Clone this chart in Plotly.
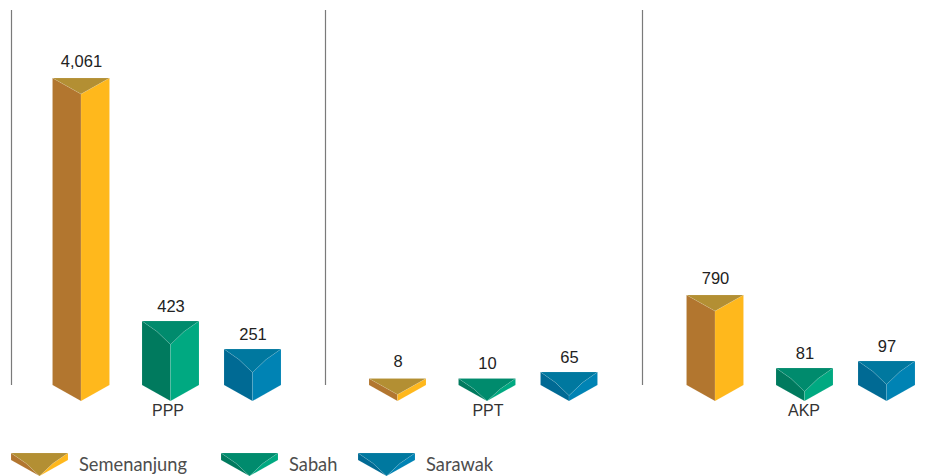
import plotly.graph_objects as go

# ---- data ----
groups = ["PPP", "PPT", "AKP"]
series = ["Semenanjung", "Sabah", "Sarawak"]
semenanjung = [4061, 8, 790]
sabah = [423, 10, 81]
sarawak = [251, 65, 97]
# the infographic's prisms are not linearly scaled: drawn height per value, in axis units
semenanjung_drawn = [307, 6.5, 90]
sabah_drawn = [64, 6.5, 17]
sarawak_drawn = [36, 13, 24]

# ---- layout / style ----
W, H = 947, 476
group_x = [81, 397.5, 715]
series_dx = [0, 89.5, 171.5]
group_label_x = [168, 488, 804]
divider_x = [11.5, 325.5, 642.5]
divider_top = 375
half_w = 28.5
base_drop = 16
top_drop = {"Semenanjung": 16, "Sabah": 23.5, "Sarawak": 23.5}
label_lift = {"Semenanjung": 15.5, "Sabah": 13.5, "Sarawak": 13.5}
curved = {"Semenanjung": False, "Sabah": True, "Sarawak": True}
palette = {
    "Semenanjung": dict(left="#B2762F", right="#FFB81C", top="#B38F33"),
    "Sabah": dict(left="#007A5E", right="#00A981", top="#008B6D"),
    "Sarawak": dict(left="#006A94", right="#0083B4", top="#00789F"),
}
legend_x = [39.5, 249.5, 386.5]
legend_text_x = [79, 289, 426]
legend_base = -75
legend_height = 7
legend_apex = 16

fig = go.Figure()


def face(xs, ys, color):
    fig.add_trace(go.Scatter(
        x=xs, y=ys, mode="lines", fill="toself", fillcolor=color,
        line=dict(color="rgba(255,255,255,0.16)", width=0.6),
        hoverinfo="skip", showlegend=False))


def prism(cx, h, name, base=0.0, apex_drop=None, force_curve=False):
    c = palette[name]
    d = top_drop[name] if apex_drop is None else apex_drop
    top = h + base
    apex_y = max(top - d, base - base_drop)
    l, r = cx - half_w, cx + half_w
    bend = curved[name] or force_curve
    bend_y = top - (top - apex_y) * 0.45
    if bend:
        lx, rx = [l, cx - 13.5, cx], [r, cx + 13.5, cx]
        edge_y = [top, bend_y, apex_y]
    else:
        lx, rx = [l, cx], [r, cx]
        edge_y = [top, apex_y]
    face(lx + [cx, l, l], edge_y + [base - base_drop, base, top], c["left"])
    face(rx + [cx, r, r], edge_y + [base - base_drop, base, top], c["right"])
    face(lx + rx[::-1][1:] + [l], edge_y + edge_y[::-1][1:] + [top], c["top"])


columns = [semenanjung, sabah, sarawak]
drawn = [semenanjung_drawn, sabah_drawn, sarawak_drawn]

for x in divider_x:
    fig.add_trace(go.Scatter(x=[x, x], y=[0, divider_top], mode="lines",
                             line=dict(color="#7a7a7a", width=1.2),
                             hoverinfo="skip", showlegend=False))

for s, name in enumerate(series):
    for g in range(len(groups)):
        cx = group_x[g] + series_dx[s]
        h = drawn[s][g]
        prism(cx, h, name)
        fig.add_trace(go.Scatter(
            x=[cx + 0.5], y=[h + label_lift[name]], mode="text", text=[f"{columns[s][g]:,}"],
            textposition="middle center",
            textfont=dict(family="Liberation Sans", size=16.5, color="#222222"),
            hoverinfo="skip", showlegend=False))

fig.add_trace(go.Scatter(
    x=group_label_x, y=[-27] * 3, mode="text", text=groups,
    textposition="middle center",
    textfont=dict(family="Liberation Sans", size=16, color="#333333"),
    hoverinfo="skip", showlegend=False))

# hand-made legend: same prism glyph, squat
for s, name in enumerate(series):
    prism(legend_x[s], legend_height, name, base=legend_base,
          apex_drop=legend_height + legend_apex, force_curve=True)
    fig.add_trace(go.Scatter(
        x=[legend_text_x[s]], y=[-81], mode="text", text=[name],
        textposition="middle right",
        textfont=dict(family="Lato", size=18.3, color="#4d4d4d"),
        hoverinfo="skip", showlegend=False))

fig.update_layout(
    width=W, height=H, margin=dict(l=0, r=0, t=0, b=0),
    paper_bgcolor="white", plot_bgcolor="white", showlegend=False,
    xaxis=dict(range=[0, W], visible=False, fixedrange=True),
    yaxis=dict(range=[-91, 385], visible=False, fixedrange=True),
)
fig.write_html("out.html", config=dict(displayModeBar=False),
               post_script="document.body.style.margin='0';document.documentElement.style.overflow='hidden';")
